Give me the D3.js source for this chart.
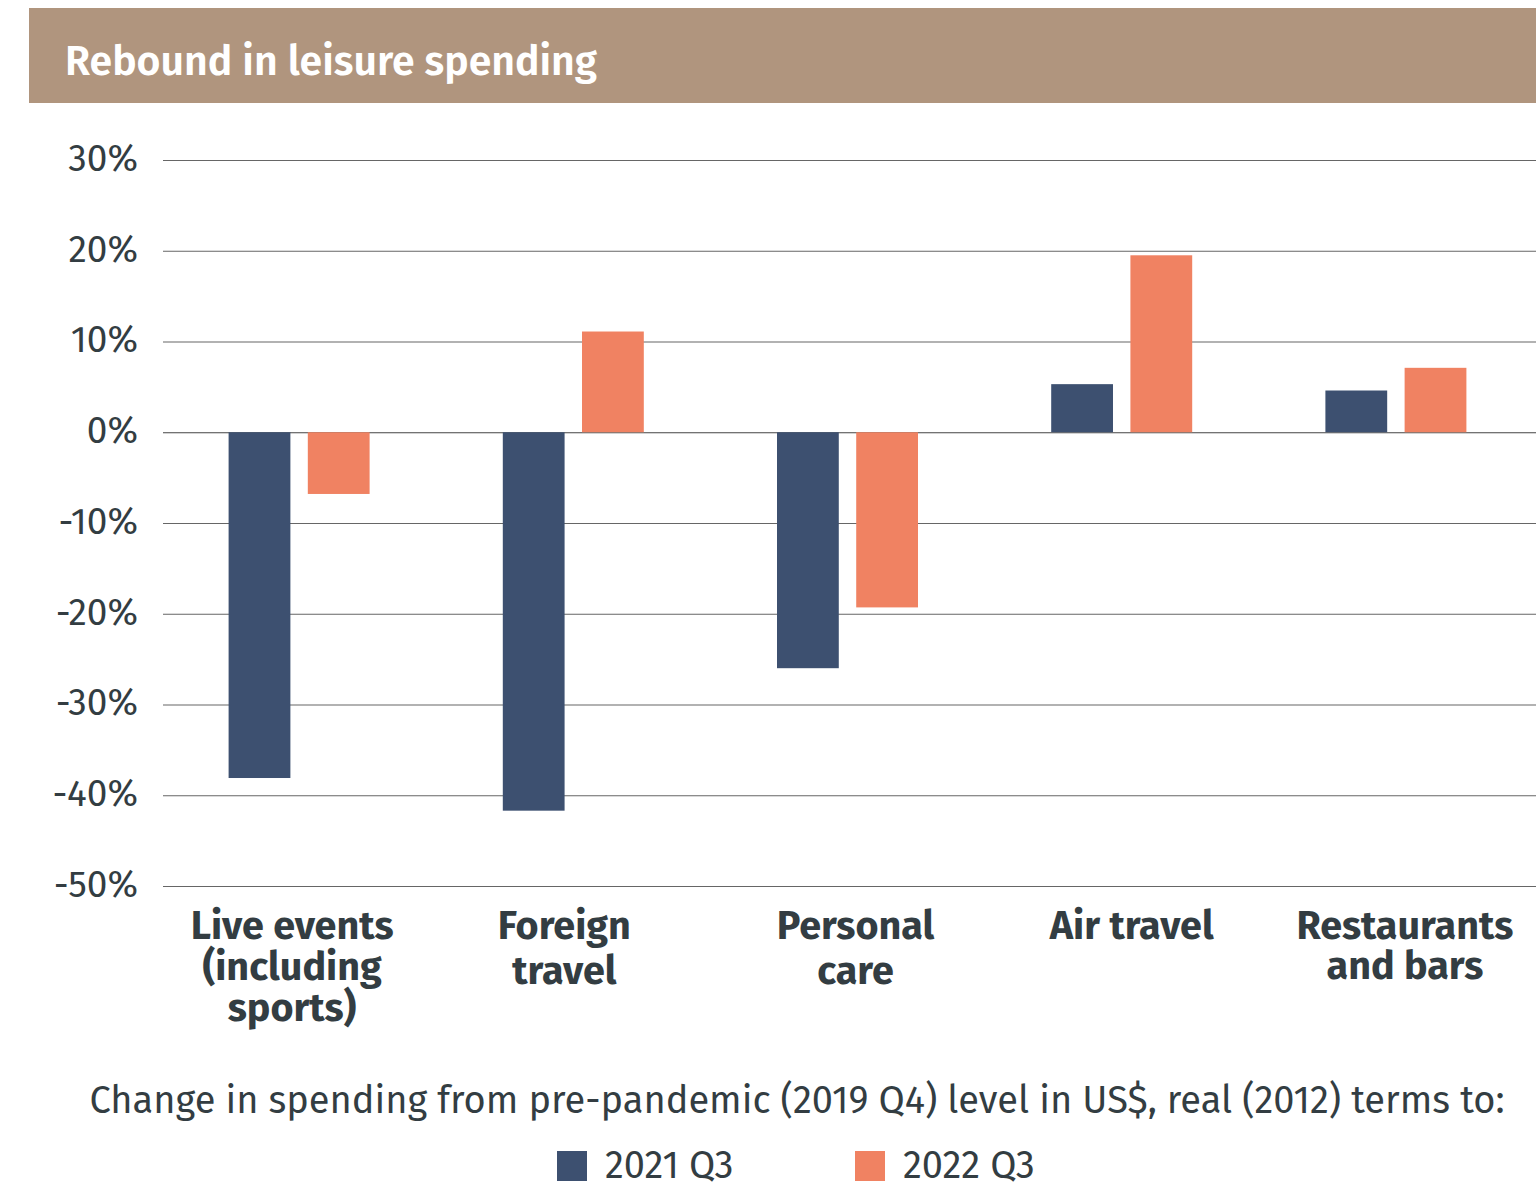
<!DOCTYPE html>
<html><head><meta charset="utf-8">
<script src="https://cdn.jsdelivr.net/npm/d3@7"></script>
<style>
html,body{margin:0;padding:0;background:#fff;}
svg text{font-family:"Fira Sans","Noto Sans","Open Sans",sans-serif;}
</style></head>
<body><svg id="c" width="1536" height="1187"></svg>
<script>
const categories = [["Live events","(including","sports)"],["Foreign","travel"],["Personal","care"],["Air travel"],["Restaurants","and bars"]];
const seriesNames = ["2021 Q3","2022 Q3"];
const values2021 = [-38.1, -41.7, -26.0, 5.3, 4.6];
const values2022 = [-6.8, 11.1, -19.3, 19.5, 7.1];
const yTicks = [30,20,10,0,-10,-20,-30,-40,-50];
const colors = ["#3d5070","#f08262"];
const textColor = "#333d42";
const labelNudge = [-7, -9, 8, 10, 9];
const labelGap = [41, 45, 45, 41, 40];

const svg = d3.select("#c");
svg.append("rect").attr("x",29).attr("y",8).attr("width",1507).attr("height",95).attr("fill","#b0957e");
svg.append("text").attr("x",65).attr("y",75).attr("fill","#fff").attr("font-size",41).attr("font-weight",600).text("Rebound in leisure spending");

const y = d3.scaleLinear().domain([-50,30]).range([886,160]);
const x0 = d3.scaleBand().domain(d3.range(categories.length)).range([162,1533]);
const x1 = d3.scaleBand().domain([0,1]).range([0,141]).paddingInner(0.22);

const yAxis = d3.axisLeft(y).tickValues(yTicks).tickSize(0).tickFormat(d=>d+"%");
const gy = svg.append("g").attr("transform","translate(138,0)").call(yAxis);
gy.select(".domain").remove();
gy.selectAll("text").attr("font-size",37).attr("fill",textColor).attr("dy","0.28em").attr("x",0);

svg.append("g").selectAll("line").data(yTicks).join("line")
  .attr("x1",163).attr("x2",1536).attr("y1",d=>y(d)+0.5).attr("y2",d=>y(d)+0.5)
  .attr("stroke",d=>d===0?"#444":"#666").attr("stroke-width",1.2);

const data = categories.map((c,i)=>[values2021[i],values2022[i]]);
const groups = svg.append("g").selectAll("g").data(data).join("g")
  .attr("transform",(d,i)=>`translate(${x0(i)+x0.bandwidth()/2-70.5},0)`);
groups.selectAll("rect").data(d=>d).join("rect")
  .attr("x",(d,j)=>x1(j)).attr("width",x1.bandwidth())
  .attr("y",d=>y(Math.max(0,d))).attr("height",d=>Math.abs(y(d)-y(0)))
  .attr("fill",(d,j)=>colors[j]);

const lines = [];
categories.forEach((c,i)=>c.forEach((t,k)=>lines.push({i,k,t})));
svg.append("g").selectAll("text").data(lines).join("text")
  .attr("x",d=>x0(d.i)+x0.bandwidth()/2+labelNudge[d.i])
  .attr("y",d=>939+d.k*labelGap[d.i])
  .attr("text-anchor","middle").attr("font-size",39.5).attr("font-weight",700).attr("fill",textColor)
  .text(d=>d.t);

svg.append("text").attr("x",797).attr("y",1113).attr("text-anchor","middle").attr("font-size",38).attr("fill",textColor)
  .text("Change in spending from pre-pandemic (2019 Q4) level in US$, real (2012) terms to:");

const legX = [557,855];
const leg = svg.append("g").selectAll("g").data(seriesNames).join("g").attr("transform",(d,i)=>`translate(${legX[i]},1151)`);
leg.append("rect").attr("width",30).attr("height",30).attr("fill",(d,i)=>colors[i]);
leg.append("text").attr("x",48).attr("y",27).attr("font-size",38).attr("fill",textColor).text(d=>d);
</script></body></html>
